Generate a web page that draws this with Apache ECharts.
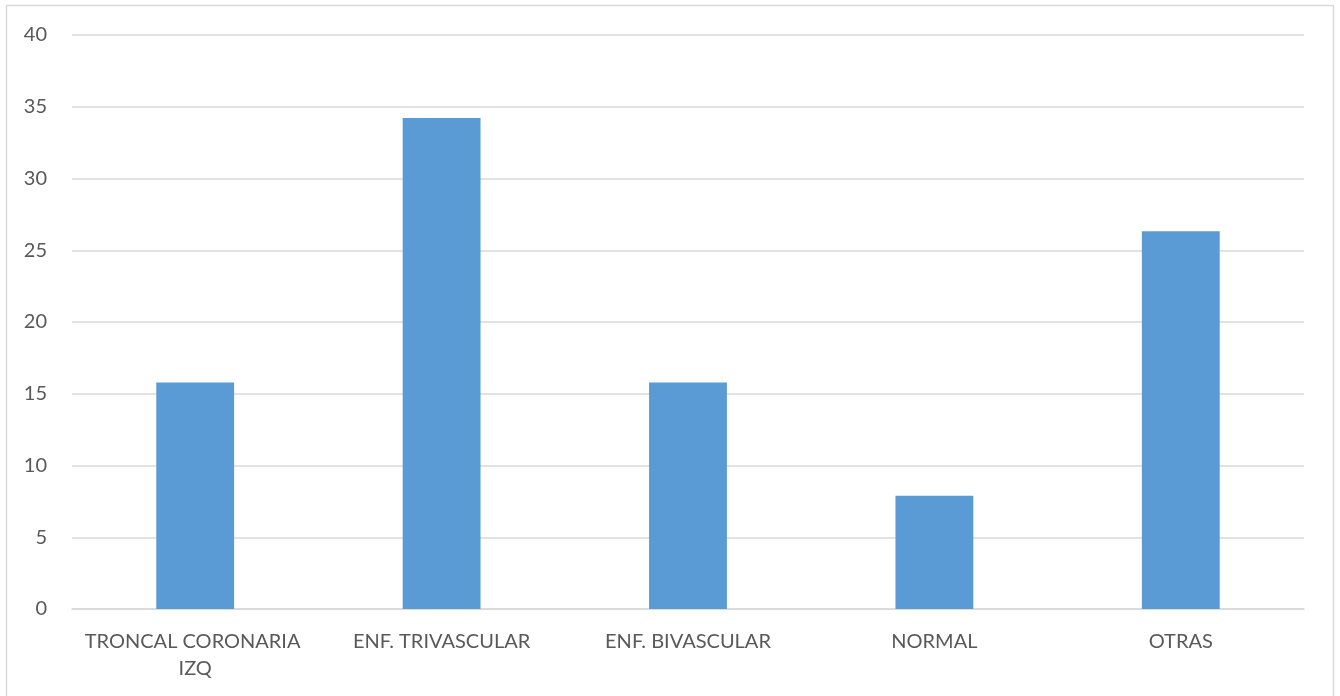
<!DOCTYPE html>
<html>
<head>
<meta charset="utf-8">
<script src="https://cdn.jsdelivr.net/npm/echarts@6/dist/echarts.min.js"></script>
<style>
  html, body { margin: 0; padding: 0; background: #fff; }
  #chart { width: 1340px; height: 696px; }
</style>
</head>
<body>
<div id="chart"></div>
<script>
// Diagnósticos angiográficos (%)
const categories = ['TRONCAL CORONARIA IZQ', 'ENF. TRIVASCULAR', 'ENF. BIVASCULAR', 'NORMAL', 'OTRAS'];
const values = [15.79, 34.21, 15.79, 7.89, 26.32];
const yTicks = { min: 0, max: 40, interval: 5 };

const chart = echarts.init(document.getElementById('chart'));
chart.setOption({
  animation: false,
  graphic: [{
    type: 'rect',
    shape: { x: 6.5, y: 5.5, width: 1327, height: 700 },
    style: { fill: 'none', stroke: '#d9d9d9', lineWidth: 1.5 },
    silent: true
  }],
  grid: { left: 72, right: 36, top: 35, bottom: 87 },
  xAxis: {
    type: 'category',
    data: categories,
    axisLine: { show: true, lineStyle: { color: '#d9d9d9', width: 1.5 } },
    axisTick: { show: false },
    axisLabel: {
      color: '#595959',
      fontFamily: 'Lato',
      fontSize: 20,
      margin: 19,
      lineHeight: 27,
      width: 235,
      overflow: 'break',
      interval: 0
    }
  },
  yAxis: {
    type: 'value',
    min: yTicks.min,
    max: yTicks.max,
    interval: yTicks.interval,
    axisLine: { show: false },
    axisTick: { show: false },
    splitLine: { lineStyle: { color: '#d9d9d9', width: 1.5 } },
    axisLabel: {
      color: '#595959',
      fontFamily: 'Lato',
      fontSize: 20,
      margin: 25
    }
  },
  series: [{
    type: 'bar',
    data: values,
    barWidth: '31.6%',
    itemStyle: { color: '#5b9bd5' }
  }]
});
</script>
</body>
</html>
